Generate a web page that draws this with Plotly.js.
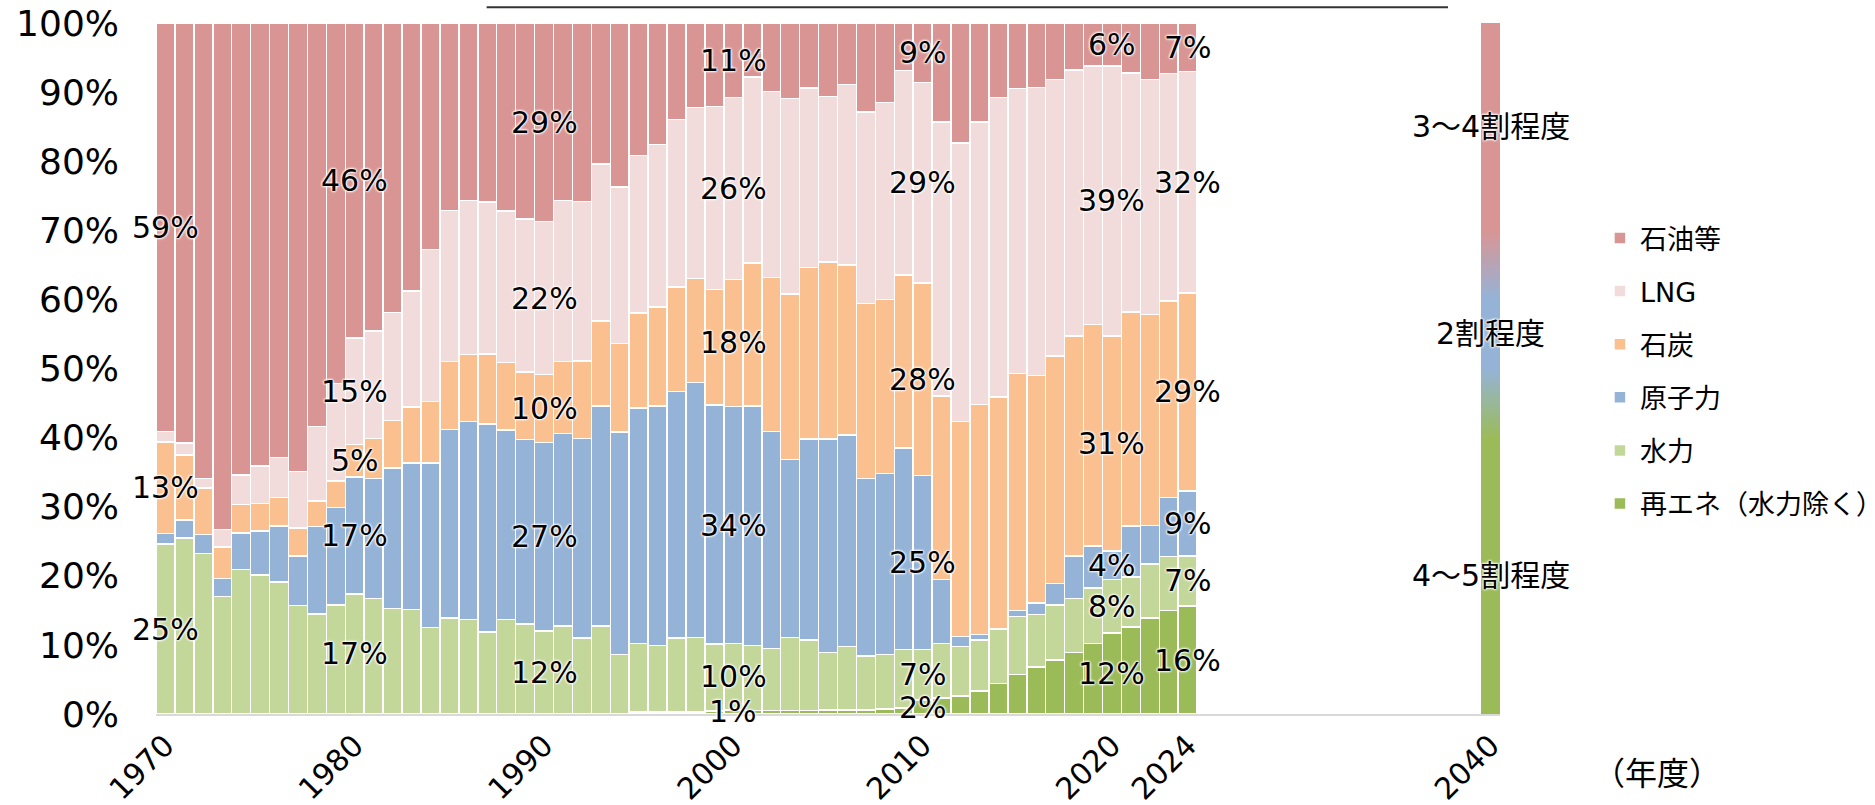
<!DOCTYPE html>
<html>
<head>
<meta charset="utf-8">
<script src="https://cdn.plot.ly/plotly-3.0.1.min.js"></script>
<style>html,body{margin:0;padding:0;background:#fff;}#chart{width:1875px;height:805px;}</style>
</head>
<body>
<div id="chart"></div>
<script>
// ---------- DATA (share of power generation, %) ----------
const years = [1970,1971,1972,1973,1974,1975,1976,1977,1978,1979,
  1980,1981,1982,1983,1984,1985,1986,1987,1988,1989,
  1990,1991,1992,1993,1994,1995,1996,1997,1998,1999,
  2000,2001,2002,2003,2004,2005,2006,2007,2008,2009,
  2010,2011,2012,2013,2014,2015,2016,2017,2018,2019,
  2020,2021,2022,2023,2024];

const seriesNames = ['再エネ（水力除く）','水力','原子力','石炭','LNG','石油等'];

const renewables = [0,0,0,0,0,0,0,0,0,0, 0,0,0,0,0,0,0,0,0,0, 0,0,0,0,0.1,0.3,0.3,0.3,0.3,0.4,
  0.6,0.5,0.5,0.5,0.5,0.6,0.6,0.6,0.7,0.9, 2.0,2.3,2.6,3.3,4.4,5.7,6.8,7.8,8.9,10.2, 11.7,12.6,13.9,15.0,15.6];
const hydro = [24.6,25.5,23.2,17.0,20.9,20.1,19.1,15.7,14.5,15.8, 17.4,16.7,15.3,15.1,12.5,13.9,13.7,11.9,13.7,13.0,
  12.0,12.7,11.0,12.7,8.5,9.9,9.6,10.7,10.8,9.7, 9.6,9.4,9.0,10.6,10.2,8.3,9.2,7.8,7.9,8.4,
  7.3,7.9,7.2,7.4,7.9,8.4,7.6,8.0,7.8,8.0, 7.8,7.2,7.8,7.8,7.3];
const nuclear = [1.5,2.6,2.8,2.6,5.3,6.4,8.1,7.2,12.6,14.1, 16.9,17.4,20.3,21.2,23.8,27.3,28.6,30.1,27.4,26.7,
  27.3,27.9,28.9,31.9,32.2,34.1,34.7,35.7,36.9,34.6, 34.3,34.7,31.4,25.7,29.1,30.9,30.6,25.7,26.2,29.2,
  25.2,9.3,1.4,0.8,0,0.9,1.7,3.1,6.2,6.1, 4.1,7.4,5.6,8.5,9.4];
const coal = [13.3,9.4,6.7,4.6,4.1,4.0,4.1,4.0,3.7,3.8, 4.7,5.8,6.9,8.1,8.9,9.8,9.7,10.1,9.8,9.8,
  9.8,10.4,11.2,12.3,12.8,13.7,14.3,15.1,15.0,16.7, 18.4,20.7,22.3,24.0,24.8,25.6,24.6,25.3,25.2,25.0,
  27.9,26.5,31.1,33.3,33.6,34.3,32.9,32.9,31.8,32.1, 31.1,31.0,30.5,28.5,28.6];
const lng = [1.5,1.7,1.4,2.5,4.3,5.4,5.8,8.2,10.8,14.1, 15.4,15.5,15.6,16.8,22.0,21.9,22.3,22.0,21.9,22.1,
  22.2,23.3,23.1,22.7,22.7,22.8,23.5,24.2,24.8,26.5, 26.3,26.9,26.9,28.3,26.0,24.0,26.1,27.7,28.5,29.6,
  29.0,39.7,40.3,40.9,43.3,41.2,41.7,40.0,38.5,37.4, 39.1,34.6,34.0,32.9,32.1];
const oil = [59.1,60.8,65.9,73.3,65.4,64.1,62.9,64.9,58.4,52.2, 45.6,44.6,41.9,38.8,32.8,27.1,25.7,25.9,27.2,28.4,
  28.7,25.7,25.8,20.4,23.7,19.2,17.6,14.0,12.2,12.1, 10.8,7.8,9.9,10.9,9.4,10.6,8.9,12.9,11.5,6.9,
  8.6,14.3,17.4,14.3,10.8,9.5,9.3,8.2,6.8,6.2, 6.2,7.2,8.2,7.3,7.0];

// 2040 outlook (ranges, %)
const targetYear = 2040;
const renewables2040 = [40, 50];   // 4～5割程度
const nuclear2040 = 20;            // 2割程度
const thermal2040 = [30, 40];      // 3～4割程度

// labelled years and which series (index into seriesNames) carry a value label
const labelYears = [1970, 1980, 1990, 2000, 2010, 2020, 2024];
const labelSeries = [[1,3,5],[1,2,3,4,5],[1,2,3,4,5],[0,1,2,3,4,5],[0,1,2,3,4,5],[0,1,2,3,4,5],[0,1,2,3,4,5]];

const xTickVals = [1970, 1980, 1990, 2000, 2010, 2020, 2024, 2040];
const yTickVals = [0,10,20,30,40,50,60,70,80,90,100];

// ---------- STYLE ----------
const colors = ['#9bbb59','#c4d79b','#95b3d7','#fac090','#f2dcdb','#d99594'];
const FONT = 'DejaVu Sans, "Noto Sans CJK JP", sans-serif';
const HALO = '0 0 3px #fff, 0 0 3px #fff, 0 0 2px #fff, 0 0 2px #fff';

const seriesData = [renewables, hydro, nuclear, coal, lng, oil];

const traces = seriesData.map((vals, i) => ({
  type: 'bar', x: years, y: vals, name: seriesNames[i],
  legendgroup: 'g' + i, legendrank: seriesData.length - i, width: 1,
  marker: {color: colors[i], line: {color: '#ffffff', width: 1.5}},
  hoverinfo: 'x+y+name'
}));

// 2040 bar: solid parts + colour blends across the ranges
function hexToRgb(h){return [parseInt(h.slice(1,3),16),parseInt(h.slice(3,5),16),parseInt(h.slice(5,7),16)];}
function mix(a,b,t){const A=hexToRgb(a),B=hexToRgb(b);return 'rgb('+A.map((v,k)=>Math.round(v+(B[k]-v)*t)).join(',')+')';}
function seg(h, c){return {type:'bar', x:[targetYear], y:[h], width:1, showlegend:false, legendgroup:'t2040',
  hoverinfo:'skip', marker:{color:c, line:{width:0}}};}
const N = 14;
const greenSolid = renewables2040[0];
const blend1 = renewables2040[1] - renewables2040[0];
const blueSolid = nuclear2040 - blend1;
const blend2 = thermal2040[1] - thermal2040[0];
const pinkSolid = thermal2040[0];
const t2040 = [];
t2040.push(seg(greenSolid, colors[0]));
for (let k=0;k<N;k++) t2040.push(seg(blend1/N, mix(colors[0], colors[2], (k+0.5)/N)));
t2040.push(seg(blueSolid, colors[2]));
for (let k=0;k<N;k++) t2040.push(seg(blend2/N, mix(colors[2], colors[5], (k+0.5)/N)));
t2040.push(seg(pinkSolid, colors[5]));

// value labels
const annotations = [];
labelYears.forEach((yr, j) => {
  const idx = years.indexOf(yr);
  let base = 0;
  for (let s=0; s<seriesData.length; s++) {
    const v = seriesData[s][idx];
    if (labelSeries[j].includes(s)) {
      annotations.push({x: yr, y: base + v/2, xref:'x', yref:'y', text: Math.round(v) + '%',
        showarrow:false, font:{family:FONT, size:30, color:'#000', shadow:HALO}});
    }
    base += v;
  }
});
// 2040 labels
const ann2040 = [
  {y: greenSolid/2, text: (renewables2040[0]/10)+'～'+(renewables2040[1]/10)+'割程度'},
  {y: renewables2040[1] + blueSolid/2, text: (nuclear2040/10)+'割程度'},
  {y: 100 - pinkSolid/2, text: (thermal2040[0]/10)+'～'+(thermal2040[1]/10)+'割程度'}
];
ann2040.forEach(a => annotations.push({x: targetYear, y: a.y, xref:'x', yref:'y', text:a.text, showarrow:false,
  font:{family:FONT, size:30, color:'#000', shadow:HALO}}));
annotations.push({x:1.1168, y:-0.0875, xref:'paper', yref:'paper', xanchor:'center', yanchor:'middle',
  text:'（年度）', showarrow:false, font:{family:FONT, size:32, color:'#000'}});

const layout = {
  width: 1875, height: 805,
  margin: {l:156, r:375, t:23, b:91, pad:0},
  paper_bgcolor:'#fff', plot_bgcolor:'#fff',
  barmode:'stack', bargap:0,
  font:{family:FONT, color:'#000'},
  xaxis:{range:[1969.5, 2040.5], tickvals:xTickVals, ticktext:xTickVals.map(String), tickangle:-45,
    tickfont:{size:30, family:FONT}, showgrid:false, zeroline:false, showline:true, linecolor:'#d9d9d9', linewidth:2,
    ticks:'', fixedrange:true, automargin:false},
  yaxis:{range:[0,100], tickvals:yTickVals, ticktext:yTickVals.map(v=>v+'%'), tickfont:{size:36, family:FONT},
    showgrid:false, zeroline:false, showline:false, ticks:'', ticklabelstandoff:36, fixedrange:true, automargin:false},
  legend:{xref:'container', yref:'container', x:0.8533, xanchor:'left', y:0.7342, yanchor:'top',
    traceorder:'grouped', tracegroupgap:15, font:{size:27, family:FONT}, bgcolor:'rgba(0,0,0,0)'},
  shapes:[{type:'line', xref:'paper', yref:'paper', x0:0.246, x1:0.9613, y0:1.0229, y1:1.0229,
    line:{color:'#333', width:2}}],
  annotations: annotations,
  showlegend:true
};

Plotly.newPlot('chart', traces.concat(t2040), layout, {displayModeBar:false, staticPlot:true});
</script>
</body>
</html>
